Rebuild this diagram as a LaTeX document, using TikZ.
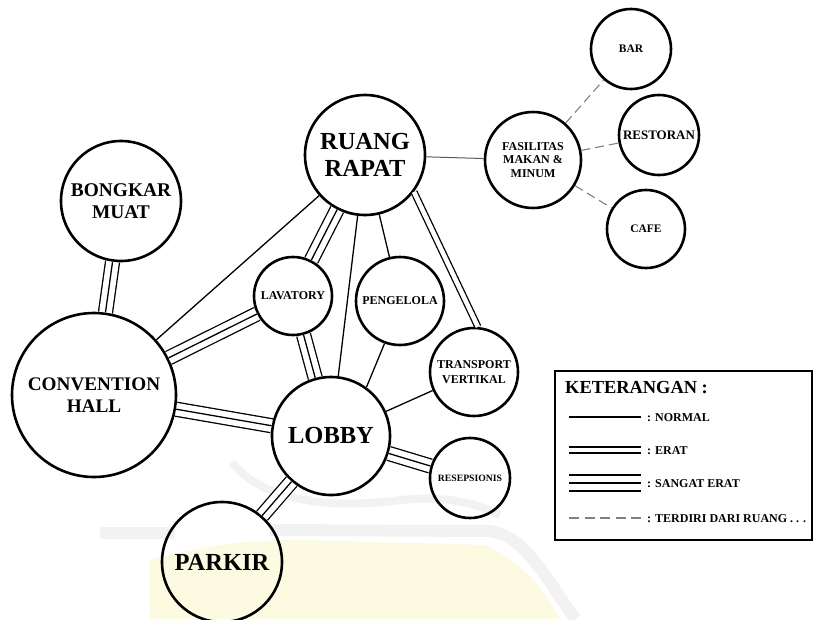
\documentclass[tikz,border=0pt]{standalone}
\usepackage{fontspec}
\setmainfont{Liberation Serif}
\pgfdeclarelayer{wm}
\pgfsetlayers{wm,main}
\definecolor{wmyellow}{HTML}{FCFAE0}
\definecolor{wmgray}{HTML}{F2F2F2}
\begin{document}
\begin{tikzpicture}[x=1pt,y=-1pt,
  room/.style={circle, draw, line width=2.6pt, inner sep=0pt, align=center},
  fbig/.style={font=\bfseries\fontsize{24.5}{27.7}\selectfont},
  fmid/.style={font=\bfseries\fontsize{19.4}{22.2}\selectfont},
  fsmall/.style={font=\bfseries\fontsize{12}{15}\selectfont},
  normal/.style={line width=1.3pt},
  erat/.style={double, double distance=4.6pt, line width=1.3pt},
  sangat/.style={line width=1.3pt, preaction={draw, line width=15.3pt, postaction={draw, white, line width=12.7pt}}},
  terdiri/.style={draw=gray, dash pattern=on 9pt off 5pt, line width=1.1pt},
  thinlink/.style={draw=black!65, line width=1pt},
  legtext/.style={anchor=base west, inner sep=0pt, font=\bfseries\fontsize{12}{14}\selectfont},
  legline/.style={line width=1.7pt},
]
\useasboundingbox (0,0) rectangle (814,619);

% faint watermark
\begin{pgfonlayer}{wm}
\fill[wmyellow] (150,619) -- (150,560) .. controls (200,545) and (250,540) .. (300,540)
  -- (485,545) .. controls (520,560) and (545,590) .. (560,619) -- cycle;
\draw[wmgray, line width=12pt] (100,533) -- (175,533);
\draw[wmgray, line width=12pt] (270,530) -- (490,531) .. controls (515,535) and (530,555) .. (545,575) -- (575,619);
\draw[wmgray, line width=8pt] (232,462) .. controls (260,500) and (330,510) .. (400,500) .. controls (450,495) and (480,505) .. (500,515);
\end{pgfonlayer}

% rooms
\node[room, minimum size=120pt, fbig] (rr) at (365,155) {RUANG\\RAPAT};
\node[room, minimum size=120pt, fmid] (bm) at (121,201) {BONGKAR\\MUAT};
\node[room, minimum size=164pt, font=\bfseries\fontsize{19.2}{21.7}\selectfont] (ch) at (94,395) {CONVENTION\\HALL};
\node[room, minimum size=78pt, fsmall] (lav) at (293,296) {LAVATORY};
\node[room, minimum size=88pt, fsmall] (pen) at (400,301) {PENGELOLA};
\node[room, minimum size=88pt, fsmall] (tv) at (474,372) {TRANSPORT\\VERTIKAL};
\node[room, minimum size=118pt, fbig] (lob) at (331,436) {LOBBY};
\node[room, minimum size=80pt, font=\bfseries\fontsize{9.7}{12}\selectfont] (res) at (470,478) {RESEPSIONIS};
\node[room, minimum size=120pt, fbig] (par) at (222,562) {PARKIR};
\node[room, minimum size=96pt, font=\bfseries\fontsize{12}{13.3}\selectfont] (fas) at (533,160) {FASILITAS\\MAKAN \&\\MINUM};
\node[room, minimum size=80pt, font=\bfseries\fontsize{11.5}{13}\selectfont] (bar) at (631,49) {BAR};
\node[room, minimum size=80pt, font=\bfseries\fontsize{13}{15}\selectfont] (resto) at (659,135) {RESTORAN};
\node[room, minimum size=78pt, font=\bfseries\fontsize{11.5}{13}\selectfont] (cafe) at (646,229) {CAFE};

% connectors
\draw[sangat] (bm) -- (ch);
\draw[normal] (ch) -- (rr);
\draw[sangat] (ch) -- (lav);
\draw[sangat] (ch) -- (lob);
\draw[sangat] (rr) -- (lav);
\draw[sangat] (lav) -- (lob);
\draw[normal] (rr) -- (lob);
\draw[normal] (rr) -- (pen);
\draw[normal] (pen.-110) -- (lob.54);
\draw[erat] (rr.-37) -- (tv.85);
\draw[normal] (tv) -- (lob);
\draw[sangat] (lob) -- (res);
\draw[sangat] (lob) -- (par);
\draw[thinlink] (rr) -- (fas);
\draw[terdiri] (fas) -- (bar);
\draw[terdiri] (fas) -- (resto);
\draw[terdiri] (fas) -- (cafe);

% legend
\node[draw, line width=1.6pt, anchor=north west, inner sep=0pt, minimum width=257pt, minimum height=169pt] (legend) at (554,370) {};
\node[anchor=base west, inner sep=0pt, font=\bfseries\fontsize{18.4}{20}\selectfont] (kt) at (565,393) {KETERANGAN :};
\coordinate (l1a) at (569,417); \coordinate (l1b) at (641,417);
\draw[legline] (l1a) -- (l1b);
\node[legtext] (t1) at (647,421) {: NORMAL};
\coordinate (l2a) at (569,450); \coordinate (l2b) at (641,450);
\draw[legline] ([yshift=-3.3pt]l2a) -- ([yshift=-3.3pt]l2b);
\draw[legline] ([yshift=3.3pt]l2a) -- ([yshift=3.3pt]l2b);
\node[legtext] (t2) at (647,454) {: ERAT};
\coordinate (l3a) at (569,483); \coordinate (l3b) at (641,483);
\draw[legline] ([yshift=-8pt]l3a) -- ([yshift=-8pt]l3b);
\draw[legline] (l3a) -- (l3b);
\draw[legline] ([yshift=8pt]l3a) -- ([yshift=8pt]l3b);
\node[legtext] (t3) at (647,487) {: SANGAT ERAT};
\coordinate (l4a) at (569,518); \coordinate (l4b) at (641,518);
\draw[draw=gray, line width=1.2pt, dash pattern=on 10pt off 5.5pt] (l4a) -- (l4b);
\node[legtext] (t4) at (647,522) {: TERDIRI DARI RUANG . . .};
\end{tikzpicture}
\end{document}
